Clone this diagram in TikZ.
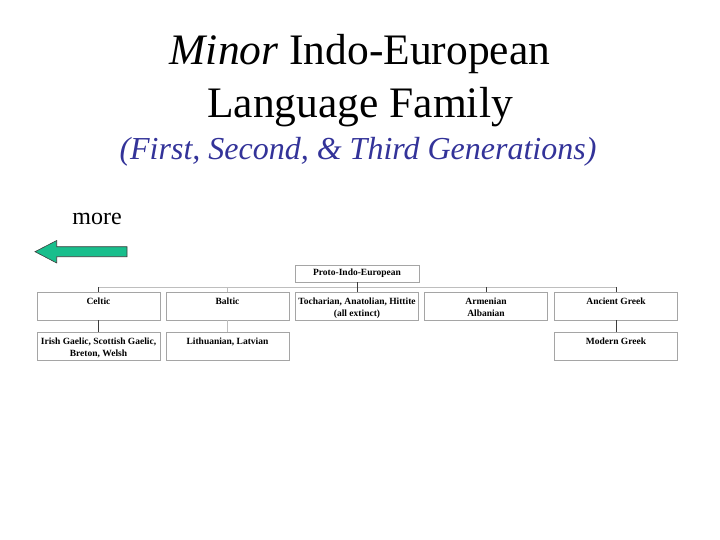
\documentclass[tikz,border=0pt]{standalone}
\usepackage{fontspec}
\setmainfont{Liberation Serif}
\definecolor{subblue}{RGB}{51,51,153}
\definecolor{arrowgreen}{RGB}{24,190,140}
\definecolor{boxgray}{RGB}{165,165,165}
\definecolor{darkline}{RGB}{60,60,60}
\definecolor{lightline}{RGB}{190,190,190}
\begin{document}
\begin{tikzpicture}[x=1pt,y=-1pt,
  famBox/.style={draw=boxgray,line width=0.8pt,minimum width=123pt,minimum height=28pt,inner sep=0pt},
  topBox/.style={draw=boxgray,line width=0.8pt,minimum width=124pt,minimum height=17pt,inner sep=0pt},
  famText/.style={font=\fontsize{9.5}{12}\selectfont\bfseries,align=center,inner sep=0pt,anchor=north},
  darkConn/.style={draw=darkline,line width=0.8pt},
  lightConn/.style={draw=lightline,line width=0.8pt}]
\useasboundingbox (0,0) rectangle (720,540);
% titles
\node[font=\fontsize{43.5}{53}\selectfont,align=center] (title) at (360,81) {\textit{Minor} Indo-European\\Language Family};
\node[font=\fontsize{32}{38}\selectfont\itshape,text=subblue] (subtitle) at (358,152) {(First, Second, \& Third Generations)};
\node[font=\fontsize{24}{28}\selectfont] (more) at (97,219) {more};
% arrow
\draw[fill=arrowgreen,draw=darkline,line width=0.6pt] (127,246.7) -- (56.7,246.7) -- (56.7,240.5) -- (35,251.7) -- (56.7,263) -- (56.7,256.7) -- (127,256.7) -- cycle;
% boxes
\node[topBox] (proto) at (357,273.5) {};
\node[famText,anchor=center] (protoT) at (proto.center) {Proto-Indo-European};
\node[famBox] (celtic) at (98.5,306) {};
\node[famBox] (baltic) at (227.5,306) {};
\node[famBox] (toch) at (357,306) {};
\node[famBox] (armen) at (486,306) {};
\node[famBox] (ancient) at (616,306) {};
\node[famBox] (irish) at (98.5,346.5) {};
\node[famBox] (lith) at (227.5,346.5) {};
\node[famBox] (modern) at (616,346.5) {};
\node[famText] (celticT) at ([yshift=-6]celtic.north) {Celtic};
\node[famText] (balticT) at ([yshift=-6]baltic.north) {Baltic};
\node[famText] (tochT) at ([yshift=-6]toch.north) {Tocharian, Anatolian, Hittite\\(all extinct)};
\node[famText] (armenT) at ([yshift=-6]armen.north) {Armenian\\Albanian};
\node[famText] (ancientT) at ([yshift=-6]ancient.north) {Ancient Greek};
\node[famText] (irishT) at ([yshift=-6]irish.north) {Irish Gaelic, Scottish Gaelic,\\Breton, Welsh};
\node[famText] (lithT) at ([yshift=-6]lith.north) {Lithuanian, Latvian};
\node[famText] (modernT) at ([yshift=-6]modern.north) {Modern Greek};
% connectors
\coordinate (bus) at (357,287);
\draw[lightConn] (celtic.north |- bus) -- (ancient.north |- bus);
\draw[darkConn] (proto.south) -- (toch.north);
\draw[darkConn] (celtic.north) -- (celtic.north |- bus);
\draw[lightConn] (baltic.north) -- (baltic.north |- bus);
\draw[darkConn] (armen.north) -- (armen.north |- bus);
\draw[darkConn] (ancient.north) -- (ancient.north |- bus);
\draw[darkConn] (celtic.south) -- (irish.north);
\draw[lightConn] (baltic.south) -- (lith.north);
\draw[darkConn] (ancient.south) -- (modern.north);
\end{tikzpicture}
\end{document}
